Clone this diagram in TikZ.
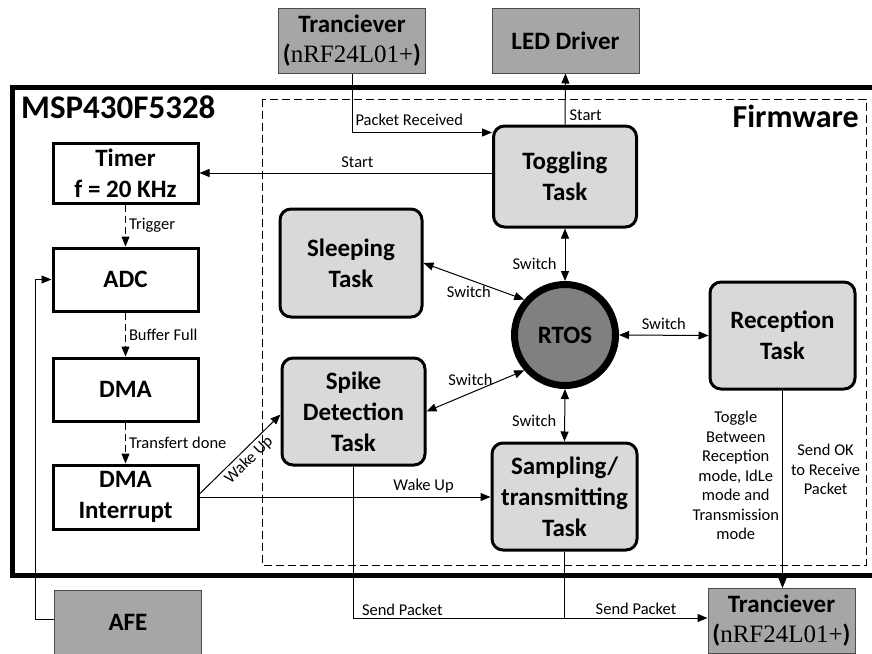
\documentclass[tikz,border=0pt]{standalone}
\usepackage{fontspec}
\setmainfont{Carlito}
\newfontfamily\seriffont{Liberation Serif}
\usetikzlibrary{arrows.meta}
\definecolor{extgray}{HTML}{A6A6A6}
\definecolor{taskgray}{HTML}{D9D9D9}
\definecolor{rtosgray}{HTML}{808080}
\tikzset{
  extbox/.style={draw=black!70, line width=1pt, fill=extgray, minimum width=147pt, minimum height=65pt, inner sep=0pt, align=center, font=\fontsize{25}{30}\selectfont\bfseries},
  hwbox/.style={draw, line width=3pt, fill=white, minimum width=145pt, inner sep=0pt, align=center, font=\fontsize{25}{31}\selectfont\bfseries},
  taskbox/.style={draw, line width=3pt, fill=taskgray, rounded corners=11pt, minimum width=143pt, minimum height=106pt, inner sep=0pt, align=center, font=\fontsize{25}{31}\selectfont\bfseries},
  lbl/.style={font=\fontsize{16.5}{19.5}\selectfont, inner sep=2pt, align=center},
  arr/.style={line width=1pt, -{Triangle[length=10pt,width=8pt]}},
  darr/.style={line width=1pt, dash pattern=on 7pt off 4pt, -{Triangle[length=10pt,width=8pt]}},
  barr/.style={line width=1pt, {Triangle[length=10pt,width=8pt]}-{Triangle[length=10pt,width=8pt]}},
}
\begin{document}
\begin{tikzpicture}[x=1pt,y=-1pt]
\clip (0,0) rectangle (872,653);
\fill[white] (0,0) rectangle (872,653);
% MSP430 outer box
\draw[line width=5pt] (12,87) rectangle (885,575);
\node[anchor=west, font=\fontsize{33}{38}\selectfont\bfseries, inner sep=0pt] (msp) at (21,107) {MSP430F5328};
% Firmware dashed box
\draw[line width=1pt, dash pattern=on 8pt off 4pt] (262,99) rectangle (866,565);
\node[anchor=east, font=\fontsize{32}{38}\selectfont\bfseries, inner sep=0pt] (fw) at (859,116) {Firmware};

% external boxes
\node[extbox] (trx1) at (352,40.5) {Tranciever\\{\bfseries(}{\seriffont\mdseries nRF24L01+}{\bfseries)}};
\node[extbox] (led) at (565.5,40.5) {LED Driver};
\node[extbox] (afe) at (128,622.5) {AFE};
\node[extbox] (trx2) at (781.5,621) {Tranciever\\{\bfseries(}{\seriffont\mdseries nRF24L01+}{\bfseries)}};

% hardware blocks
\node[hwbox, minimum height=60pt] (timer) at (125.5,173) {Timer\\f = 20 KHz};
\node[hwbox, minimum height=63pt] (adc) at (125.5,279.5) {ADC};
\node[hwbox, minimum height=63pt] (dma) at (125.5,389.5) {DMA};
\node[hwbox, minimum height=64pt] (dmai) at (125.5,497) {DMA\\Interrupt};

% tasks
\node[taskbox, minimum height=101pt] (toggle) at (565,176.5) {Toggling\\Task};
\node[taskbox, minimum width=142pt, minimum height=108pt] (sleep) at (351,263) {Sleeping\\Task};
\node[taskbox, minimum height=107pt] (spike) at (353.5,411.5) {Spike\\Detection\\Task};
\node[taskbox, minimum width=145pt, minimum height=107pt] (samp) at (564.5,496.5) {Sampling/\\transmitting\\Task};
\node[taskbox, minimum width=145pt, minimum height=107pt] (recep) at (782.5,335.5) {Reception\\Task};
\node[circle, draw, line width=7pt, fill=rtosgray, minimum size=101pt, inner sep=0pt, font=\fontsize{25}{31}\selectfont\bfseries] (rtos) at (565,335) {RTOS};

% connectors
\draw[arr] (trx1.south) |- ([yshift=-8pt]toggle.north west) node[lbl, pos=0.5, anchor=south west, xshift=1pt, yshift=4pt] {Packet Received};
\draw[arr] (toggle.north) -- (led.south) node[lbl, pos=0.19, anchor=west, xshift=2pt] {Start};
\draw[arr] (toggle.west |- timer.east) -- (timer.east) node[lbl, pos=0.46, above=3pt] {Start};
\draw[darr] (timer.south) -- (adc.north) node[lbl, midway, right=1pt] {Trigger};
\draw[darr] (adc.south) -- (dma.north) node[lbl, midway, right=1pt] {Buffer Full};
\draw[darr] (dma.south) -- (dmai.north) node[lbl, midway, right=1pt] {Transfert done};
\draw[arr] ([yshift=3pt]dmai.east) -- ([yshift=-3pt]spike.west) node[lbl, pos=0.52, sloped, below=1pt] {Wake Up};
\draw[arr] (dmai.east) -- (samp.west |- dmai.east) node[lbl, pos=0.77, above=1pt] {Wake Up};
\draw[arr] ([yshift=3.5pt]afe.west) -- ++(-19,0) |- (adc.west);

\draw[barr] (rtos.north) -- (toggle.south) node[lbl, pos=0.32, left=6pt] {Switch};
\draw[barr] (sleep.east) -- (rtos.139) node[lbl, pos=0.45, below=4pt] {Switch};
\draw[barr] (spike.east) -- (rtos.221) node[lbl, pos=0.45, above=5pt] {Switch};
\draw[barr] (rtos.south) -- (samp.north) node[lbl, pos=0.6, left=6pt] {Switch};
\draw[barr] (rtos.east) -- (recep.west) node[lbl, midway, above=3pt] {Switch};

\draw[arr] (recep.south) -- (recep.south |- trx2.north) node[lbl, pos=0.43, left=1pt] {Toggle\\Between\\Reception\\mode, IdLe\\mode and\\Transmission\\mode} node[lbl, pos=0.4, right=6pt] {Send OK\\to Receive\\Packet};
\coordinate (sp) at ([yshift=3pt]trx2.west);
\draw[arr] (spike.south) |- (sp) node[lbl, pos=0.5, anchor=south west, xshift=6pt] {Send Packet};
\draw[line width=1pt] (samp.south) -- (samp.south |- sp);
\path (samp.south |- sp) -- (sp) node[lbl, midway, above=1pt] {Send Packet};
\end{tikzpicture}
\end{document}
